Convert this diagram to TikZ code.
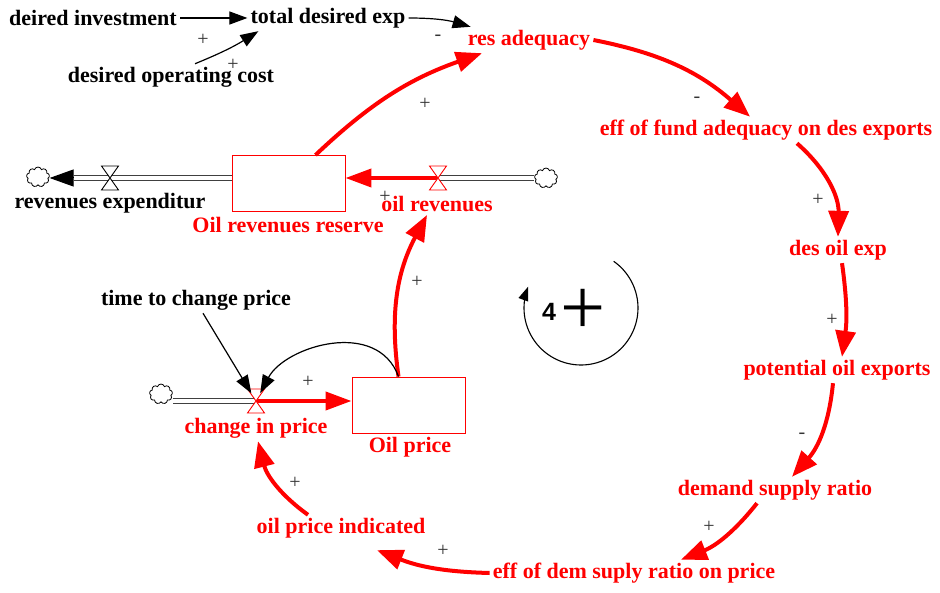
\documentclass[tikz,border=0pt]{standalone}
\usepackage{fontspec}
\setmainfont{Liberation Serif}
\setsansfont{Liberation Sans}
\usepackage{tikz}
\usetikzlibrary{arrows.meta,shapes.symbols,calc}
\definecolor{sfred}{HTML}{FF0000}
\definecolor{pipeln}{HTML}{404040}
\definecolor{signc}{HTML}{333333}
\newcommand{\valve}[2]{% hourglass valve on a flow
  \filldraw[draw=#2,fill=white,line width=0.9pt]
    ($(#1)+(-8.5,-12)$) -- ($(#1)+(8.5,-12)$) -- ($(#1)+(-8.5,12)$) -- ($(#1)+(8.5,12)$) -- cycle;}
\tikzset{
  every node/.style={font=\fontsize{22}{24}\selectfont\bfseries},
  var/.style={inner sep=3pt},
  rvar/.style={var,text=sfred},
  stock/.style={draw=sfred,line width=0.9pt,minimum width=113pt,minimum height=56pt,inner sep=0pt},
  src/.style={cloud,cloud puffs=9,aspect=1.1,draw=black,fill=white,line width=0.8pt,
              minimum width=23pt,minimum height=20pt,inner sep=0pt},
  pipe/.style={draw=pipeln,double=white,double distance=3.5pt,line width=1pt},
  outtip/.style={-{Triangle[length=24pt,width=17pt]},draw=black,line width=1pt},
  link/.style={-{Triangle[length=18pt,width=13pt]},draw=black,line width=1.2pt},
  rlink/.style={-{Triangle[length=26pt,width=20pt]},draw=sfred,line width=4pt},
  rflow/.style={-{Triangle[length=26pt,width=18pt]},draw=sfred,line width=4pt},
  sgn/.style={font=\fontsize{20}{20}\selectfont\mdseries,text=signc,inner sep=0pt},
}

\begin{document}
\begin{tikzpicture}[x=1pt,y=-1pt]
\useasboundingbox (0,0) rectangle (940,593);

% spending side
\node[var] (dinv) at (93,18) {deired investment};
\node[var] (tde) at (328,18) {total desired exp};
\node[var] (doc) at (171,77) {desired operating cost};

% main loop variables
\node[rvar] (resadq) at (529,40) {res adequacy};
\node[rvar] (efffund) at (766,130) {eff of fund adequacy on des exports};
\node[rvar] (desexp) at (838,250) {des oil exp};
\node[rvar] (potexp) at (837,370) {potential oil exports};
\node[rvar] (dsr) at (775,490) {demand supply ratio};
\node[rvar] (effdsr) at (634,573) {eff of dem suply ratio on price};
\node[rvar] (opi) at (341,528) {oil price indicated};
\node[var] (ttcp) at (196,300) {time to change price};

% stocks
\node[stock] (reserve) at (288.5,183.5) {};
\node[rvar] (reservelab) at (288,225) {Oil revenues reserve};
\node[stock] (price) at (408.5,405) {};
\node[rvar] (pricelab) at (410,447) {Oil price};

% flows
\coordinate (vrev) at (438,178);
\coordinate (vexp) at (110,178);
\coordinate (vchg) at (256,401);
\node[rvar] (lrev) at (437,204) {oil revenues};
\node[var] (lexp) at (110,203) {revenues expenditur};
\node[rvar] (lchg) at (256,428) {change in price};
\node[src] (cRev) at (546,178) {};
\node[src] (cExp) at (38,177) {};
\node[src] (cChg) at (161,394) {};
\coordinate (expTip) at ($(vexp -| cExp.east)+(24,0)$);

\draw[pipe] (vrev) -- (vrev -| cRev.west);
\draw[pipe] (reserve.west |- vexp) -- (expTip);
\draw[outtip] (expTip) -- (vexp -| cExp.east);
\draw[pipe] (vchg -| cChg.east) -- (vchg);
\draw[rflow] (vrev) -- (vrev -| reserve.east);
\draw[rflow] (vchg) -- (vchg -| price.west);
\valve{vrev}{sfred}
\valve{vexp}{black}
\valve{vchg}{sfred}

% links
\draw[link] (dinv.east) -- (tde.west);
\draw[link] ([xshift=24pt]doc.north) to[bend right=5] ([xshift=11pt]tde.south west);
\draw[link] (tde.east) to[bend left=8] ([xshift=6pt]resadq.north west);
\draw[rlink] (resadq.east) to[bend left=15] ([xshift=-16pt]efffund.north);
\draw[rlink] ([xshift=31pt]efffund.south) to[bend left=25] (desexp.north);
\draw[rlink] ([xshift=4pt]desexp.south) to[bend left=8] ([xshift=5pt]potexp.north);
\draw[rlink] ([xshift=-4pt]potexp.south) to[bend left=18] ([xshift=17pt]dsr.north);
\draw[rlink] ([xshift=-18pt]dsr.south) to[bend left=15] ([xshift=47pt]effdsr.north);
\draw[rlink] (effdsr.west) to[bend left=10] ([shift={(36pt,-9pt)}]opi.south);
\draw[rlink] ([xshift=-33pt]opi.north) to[bend left=20] ([xshift=2pt]lchg.south);
\draw[rlink] ([xshift=-10pt]price.north) to[bend left=18] ([xshift=-10pt]lrev.south);
\draw[rlink] ([xshift=27pt]reserve.north) to[bend left=12] ([xshift=-47pt]resadq.south);
\draw[link,shorten >=9pt] ([xshift=-10pt]price.north) to[out=110,in=62,looseness=1.1] (vchg);
\draw[link,shorten >=9pt] ([xshift=7pt]ttcp.south) -- (vchg);

% polarities
\node[sgn] (s1) at (203,40) {+};
\node[sgn] (s2) at (233,65) {+};
\node[sgn] (s3) at (438,38) {-};
\node[sgn] (s4) at (425,104) {+};
\node[sgn] (s5) at (697,100) {-};
\node[sgn] (s6) at (818,200) {+};
\node[sgn] (s7) at (832,320) {+};
\node[sgn] (s8) at (802,436) {-};
\node[sgn] (s9) at (709,527) {+};
\node[sgn] (s10) at (443,551) {+};
\node[sgn] (s11) at (295,483) {+};
\node[sgn] (s12) at (417,282) {+};
\node[sgn] (s13) at (308,382) {+};
\node[sgn] (s14) at (385,197) {+};

% loop marker
\coordinate (loopc) at (581,308);
\draw[-{Triangle[length=14pt,width=10pt]},line width=1.1pt]
  plot[domain=-55:202,samples=80] ({581+57*cos(\x)},{308+57*sin(\x)});
\node[font=\sffamily\bfseries\fontsize{25}{25}\selectfont] (loopnum) at (549,312) {4};
\node[font=\fontsize{80}{80}\selectfont\mdseries,inner sep=0pt] (loopsign) at (583,312) {+};
\end{tikzpicture}
\end{document}
